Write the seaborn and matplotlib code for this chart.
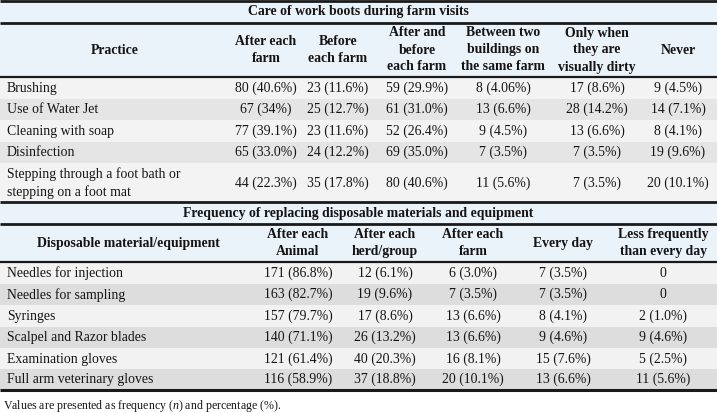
import matplotlib
matplotlib.use("Agg")
import matplotlib.pyplot as plt
import seaborn as sns

# Table 1: care of work boots
boot_title = "Care of work boots during farm visits"
boot_label_head = "Practice"
boot_cols = ["After each\nfarm", "Before\neach farm", "After and\nbefore\neach farm",
             "Between two\nbuildings on\nthe same farm", "Only when\nthey are\nvisually dirty", "Never"]
practices = ["Brushing", "Use of Water Jet", "Cleaning with soap", "Disinfection",
             "Stepping through a foot bath or\nstepping on a foot mat"]
boot_n = [[80, 23, 59, 8, 17, 9],
          [67, 25, 61, 13, 28, 14],
          [77, 23, 52, 9, 13, 8],
          [65, 24, 69, 7, 7, 19],
          [44, 35, 80, 11, 7, 20]]
boot_pct = [["40.6", "11.6", "29.9", "4.06", "8.6", "4.5"],
            ["34", "12.7", "31.0", "6.6", "14.2", "7.1"],
            ["39.1", "11.6", "26.4", "4.5", "6.6", "4.1"],
            ["33.0", "12.2", "35.0", "3.5", "3.5", "9.6"],
            ["22.3", "17.8", "40.6", "5.6", "3.5", "10.1"]]

# Table 2: replacing disposable materials
disp_title = "Frequency of replacing disposable materials and equipment"
disp_label_head = "Disposable material/equipment"
disp_cols = ["After each\nAnimal", "After each\nherd/group", "After each\nfarm",
             "Every day", "Less frequently\nthan every day"]
materials = ["Needles for injection", "Needles for sampling", "Syringes",
             "Scalpel and Razor blades", "Examination gloves", "Full arm veterinary gloves"]
disp_n = [[171, 12, 6, 7, 0],
          [163, 19, 7, 7, 0],
          [157, 17, 13, 8, 2],
          [140, 26, 13, 9, 9],
          [121, 40, 16, 15, 5],
          [116, 37, 20, 13, 11]]
disp_pct = [["86.8", "6.1", "3.0", "3.5", None],
            ["82.7", "9.6", "3.5", "3.5", None],
            ["79.7", "8.6", "6.6", "4.1", "1.0"],
            ["71.1", "13.2", "6.6", "4.6", "4.6"],
            ["61.4", "20.3", "8.1", "7.6", "2.5"],
            ["58.9", "18.8", "10.1", "6.6", "5.6"]]

footnote = "Values are presented as frequency ($\\it{n}$) and percentage (%)."

sns.set_theme(style="white")
plt.rcParams['font.family'] = ['Liberation Serif', 'DejaVu Serif']
plt.rcParams['mathtext.fontset'] = 'custom'
plt.rcParams['mathtext.it'] = 'Liberation Serif:italic'

W, H = 717, 413
fig = plt.figure(figsize=(W / 100, H / 100), dpi=100)
ax = fig.add_axes([0, 0, 1, 1])
ax.set_xlim(0, W)
ax.set_ylim(H, 0)
ax.axis("off")

head_bg = "#eaf2fa"
ink = "#161412"
fs = 9.9
lsp = 1.4


def band(y0, y1, color):
    ax.axhspan(y0, y1, xmin=0, xmax=1, color=color, lw=0, zorder=0)


def rule(y, lw):
    ax.plot([0, W], [y, y], color="#1a1a1a", lw=lw, solid_capstyle="butt", zorder=2)


def cell(n, p):
    return f"{n}" if p is None else f"{n} ({p}%)"


def draw_table(title, y_title, label_head, cols, col_x, label_x, y_head, rows, row_edges, ns, pcts, shades):
    band(y_title[0], y_title[1], head_bg)
    ax.text(358, sum(y_title) / 2, title, ha="center", va="center", fontsize=fs, fontweight="bold", color=ink)
    band(y_head[0], y_head[1], head_bg)
    yc = sum(y_head) / 2
    ax.text(label_x, yc, label_head, ha="center", va="center", fontsize=fs, fontweight="bold", color=ink)
    for c, x in zip(cols, col_x):
        ax.text(x, yc, c, ha="center", va="center", fontsize=fs, fontweight="bold",
                linespacing=lsp, color=ink)
    for i, name in enumerate(rows):
        y0, y1 = row_edges[i], row_edges[i + 1]
        band(y0, y1, shades[i % 2])
        ym = (y0 + y1) / 2 + 0.5
        ax.text(7, ym, name, ha="left", va="center", fontsize=fs, linespacing=lsp, color=ink)
        for j, x in enumerate(col_x):
            ax.text(x, ym, cell(ns[i][j], pcts[i][j]), ha="center", va="center", fontsize=fs, color=ink)
    rule(y_title[0], 2.0)
    rule(y_head[0], 2.0)
    rule(y_head[1], 1.6)


draw_table(boot_title, (1, 23), boot_label_head, boot_cols,
           [266, 338, 417, 503, 597, 678], 115, (23, 77),
           practices, [77, 98.5, 120, 141.5, 163, 202], boot_n, boot_pct,
           ["#f3f3f3", "#e5e5e5"])
draw_table(disp_title, (202, 224), disp_label_head, disp_cols,
           [298, 385, 473, 563, 663], 128, (224, 262),
           materials, [262, 283.5, 305, 326.5, 348, 369, 389.5], disp_n, disp_pct,
           ["#f2f2f2", "#dddddd"])
rule(389.5, 2.2)

ax.text(3, 406, footnote, ha="left", va="center", fontsize=8.6, color=ink)

fig.savefig("out.png", dpi=100)
